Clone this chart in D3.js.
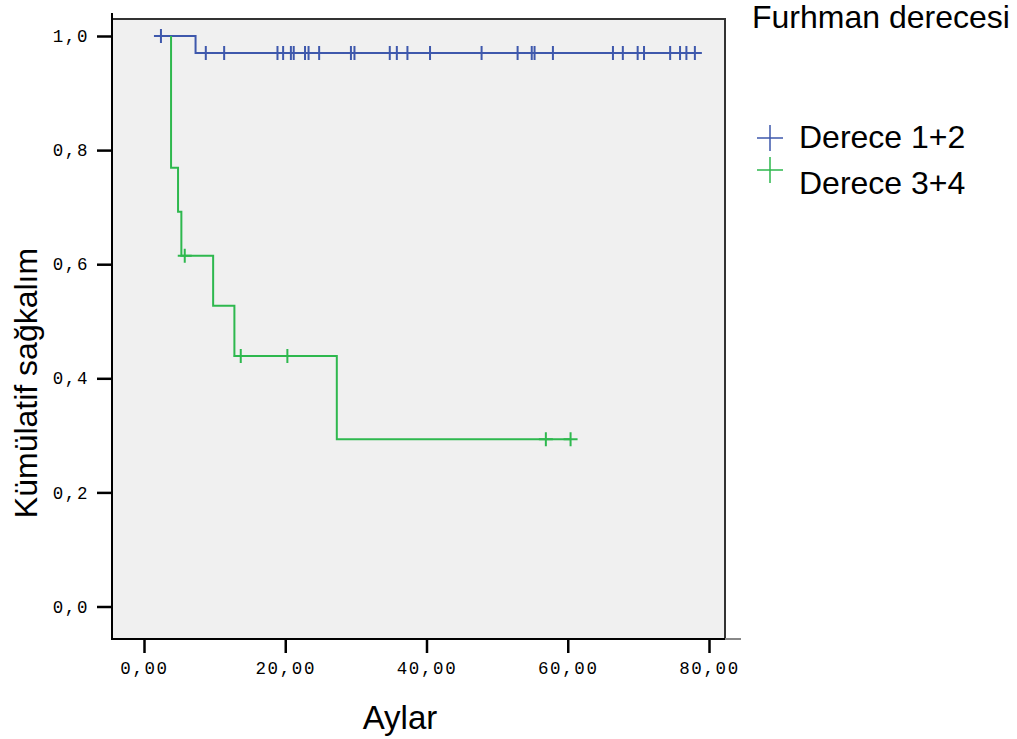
<!DOCTYPE html>
<html>
<head>
<meta charset="utf-8">
<script src="https://cdn.jsdelivr.net/npm/d3@7"></script>
<style>
  body { margin: 0; background: white; }
  svg { display: block; }
</style>
</head>
<body>
<div id="chart"></div>
<script>
// group names
let groups = ['Derece 1+2', 'Derece 3+4'];
let colors = ['#3e58ac', '#2eb84e'];

// Derece 1+2: event times and survival after each event, then censored times
let blueEventTimes = [7.3];
let blueEventSurv = [0.97];
let blueCensorTimes = [2.4, 8.75, 11.35, 18.9, 19.7, 20.8, 21.2, 22.8, 23.3, 24.8, 29.3, 29.8,
  34.8, 35.8, 37.3, 40.5, 47.8, 52.9, 54.9, 55.3, 57.9, 66.4, 67.8, 69.9, 70.8, 74.5, 75.9, 76.8, 78.0];

// Derece 3+4
let greenEventTimes = [3.83, 4.82, 5.29, 9.79, 12.8, 27.3];
let greenEventSurv = [0.769, 0.692, 0.615, 0.527, 0.439, 0.293];
let greenCensorTimes = [5.77, 13.7, 20.3, 56.9, 60.4];

// axis ticks
let xTicks = [0, 20, 40, 60, 80];
let yTicks = [0, 0.2, 0.4, 0.6, 0.8, 1.0];

let width = 1017,
  height = 739,
  frame = { left: 112, top: 19, right: 725, bottom: 639 };

let svg = d3.select('#chart')
  .append('svg')
    .attr('width', width)
    .attr('height', height)
    .style('background', 'white');

// scales
let xScale = d3.scaleLinear()
  .domain([0, 80])
  .range([144, 709]);

let yScale = d3.scaleLinear()
  .domain([0, 1])
  .range([606.5, 36]);

// comma decimal
let locale = d3.formatLocale({ decimal: ',', thousands: '.', grouping: [3], currency: ['', ''] });

// plot background
svg.append('rect')
  .attr('x', frame.left)
  .attr('y', frame.top)
  .attr('width', frame.right - frame.left)
  .attr('height', frame.bottom - frame.top)
  .attr('fill', '#f0f0f0');

// series
let series = [
  { events: blueEventTimes, surv: blueEventSurv, censor: blueCensorTimes },
  { events: greenEventTimes, surv: greenEventSurv, censor: greenCensorTimes }
];

let line = d3.line()
  .x(d => xScale(d[0]))
  .y(d => yScale(d[1]))
  .curve(d3.curveStepAfter);

series.forEach(function(s, i) {
  let allTimes = s.events.concat(s.censor);
  let t0 = d3.min(allTimes), tEnd = d3.max(allTimes);
  let pts = [[t0, 1]];
  s.events.forEach((t, j) => pts.push([t, s.surv[j]]));
  pts.push([tEnd, s.surv[s.surv.length - 1]]);

  // survival level at a time
  let survAt = function(t) {
    let v = 1;
    s.events.forEach((e, j) => { if (e <= t) v = s.surv[j]; });
    return v;
  };

  let g = svg.append('g');
  g.append('path')
    .attr('d', line(pts))
    .attr('fill', 'none')
    .attr('stroke', colors[i])
    .attr('stroke-width', 2);

  // censor marks
  g.selectAll('path.cens')
    .data(s.censor)
    .enter()
    .append('path')
    .attr('class', 'cens')
    .attr('d', function(t) {
      let x = xScale(t), y = yScale(survAt(t));
      return 'M' + (x - 7) + ',' + y + 'H' + (x + 7) + 'M' + x + ',' + (y - 7) + 'V' + (y + 7);
    })
    .attr('stroke', colors[i])
    .attr('stroke-width', 2);
});

// frame lines
svg.append('path')
  .attr('d', 'M' + frame.left + ',' + frame.top + 'H' + frame.right + 'V' + frame.bottom)
  .attr('fill', 'none')
  .attr('stroke', '#333')
  .attr('stroke-width', 2);
svg.append('line')
  .attr('x1', frame.right).attr('x2', 741)
  .attr('y1', frame.bottom).attr('y2', frame.bottom)
  .attr('stroke', '#888')
  .attr('stroke-width', 2);
svg.append('line')
  .attr('x1', frame.left).attr('x2', frame.left)
  .attr('y1', 13).attr('y2', frame.bottom + 1)
  .attr('stroke', 'black')
  .attr('stroke-width', 2);
svg.append('line')
  .attr('x1', frame.left - 1).attr('x2', frame.right)
  .attr('y1', frame.bottom).attr('y2', frame.bottom)
  .attr('stroke', 'black')
  .attr('stroke-width', 2);

// y axis
let yAxis = d3.axisLeft(yScale)
  .tickValues(yTicks)
  .tickSize(15)
  .tickPadding(8)
  .tickFormat(locale.format('.1f'));
let yG = svg.append('g')
  .attr('transform', 'translate(' + frame.left + ',0)')
  .call(yAxis);

// x axis
let xAxis = d3.axisBottom(xScale)
  .tickValues(xTicks)
  .tickSize(14)
  .tickPadding(9)
  .tickFormat(locale.format('.2f'));
let xG = svg.append('g')
  .attr('transform', 'translate(0,' + frame.bottom + ')')
  .call(xAxis);

[yG, xG].forEach(function(g) {
  g.select('.domain').remove();
  g.selectAll('.tick line').attr('stroke', 'black').attr('stroke-width', 2.5);
  g.selectAll('.tick text')
    .attr('fill', 'black')
    .style('font-family', '"Liberation Mono", monospace')
    .style('font-size', '17.5px')
    .style('letter-spacing', '1.6px');
});

// axis titles
svg.append('text')
  .attr('transform', 'translate(37,383) rotate(-90)')
  .attr('text-anchor', 'middle')
  .style('font-family', '"Liberation Sans", Arial, sans-serif')
  .style('font-size', '32px')
  .text('Kümülatif sağkalım');

svg.append('text')
  .attr('x', 400)
  .attr('y', 729)
  .attr('text-anchor', 'middle')
  .style('font-family', '"Liberation Sans", Arial, sans-serif')
  .style('font-size', '33px')
  .text('Aylar');

// legend
let legend = svg.append('g')
  .style('font-family', '"Liberation Sans", Arial, sans-serif')
  .style('font-size', '32px');

legend.append('text')
  .attr('x', 752)
  .attr('y', 28)
  .text('Furhman derecesi');

let legendMarkY = [138, 170];
let legendTextY = [148, 194];
groups.forEach(function(name, i) {
  legend.append('path')
    .attr('d', 'M757,' + legendMarkY[i] + 'H783M770,' + (legendMarkY[i] - 13) + 'V' + (legendMarkY[i] + 13))
    .attr('stroke', colors[i])
    .attr('stroke-width', 1.5);
  legend.append('text')
    .attr('x', 799)
    .attr('y', legendTextY[i])
    .text(name);
});
</script>
</body>
</html>
